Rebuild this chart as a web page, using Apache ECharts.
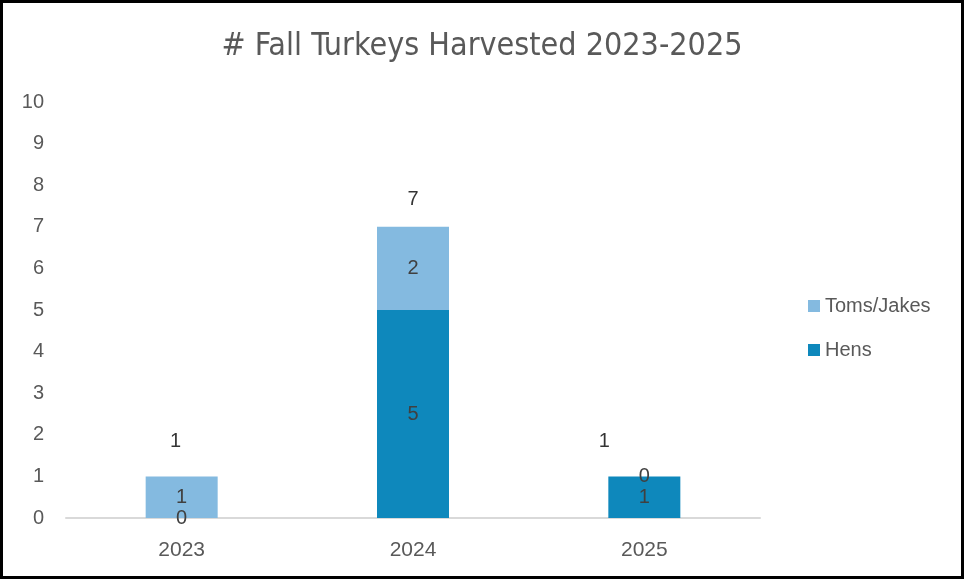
<!DOCTYPE html>
<html>
<head>
<meta charset="utf-8">
<script src="https://cdn.jsdelivr.net/npm/echarts@6/dist/echarts.min.js"></script>
<style>
html, body { margin: 0; padding: 0; background: #fff; }
#main { width: 964px; height: 579px; }
</style>
</head>
<body>
<div id="main"></div>
<script>
var years = ['2023', '2024', '2025'];
var hens = [0, 5, 1];
var tomsJakes = [1, 2, 0];
var totals = [1, 7, 1];
var yTicks = [0, 10, 1]; // min, max, interval

var chart = echarts.init(document.getElementById('main'));

// hand-placed total labels (x, y shift in px) like the original
var totalShift = [[-6, -20], [0, -12], [-40, -20]];

var segLabel = {
    show: true,
    position: 'inside',
    color: '#404040',
    fontSize: 20,
    fontFamily: 'Liberation Sans'
};

var option = {
    backgroundColor: '#fff',
    title: {
        text: '# Fall Turkeys Harvested 2023-2025',
        left: 'center',
        top: 26,
        textStyle: {
            color: '#595959',
            fontSize: 32,
            fontWeight: 'normal',
            fontFamily: 'DejaVu Sans Condensed, Roboto, sans-serif'
        }
    },
    graphic: [{
        type: 'rect',
        shape: { x: 1.5, y: 1.5, width: 961, height: 576 },
        style: { fill: 'none', stroke: '#000', lineWidth: 3 },
        silent: true
    }],
    legend: {
        orient: 'vertical',
        left: 803,
        top: 291,
        itemGap: 24,
        itemWidth: 12,
        itemHeight: 12,
        icon: 'rect',
        data: ['Toms/Jakes', 'Hens'],
        textStyle: { color: '#595959', fontSize: 20, fontFamily: 'Liberation Sans' }
    },
    grid: { left: 66, right: 204, top: 102, bottom: 61 },
    xAxis: {
        type: 'category',
        data: years,
        axisLine: { lineStyle: { color: '#D9D9D9', width: 2 } },
        axisTick: { show: false },
        axisLabel: { color: '#595959', fontSize: 21, margin: 22, fontFamily: 'Liberation Sans' }
    },
    yAxis: {
        type: 'value',
        min: yTicks[0],
        max: yTicks[1],
        interval: yTicks[2],
        splitLine: { show: false },
        axisLine: { show: false },
        axisTick: { show: false },
        axisLabel: { color: '#595959', fontSize: 20, margin: 22, fontFamily: 'Liberation Sans' }
    },
    series: [
        {
            name: 'Hens',
            type: 'bar',
            stack: 'total',
            barWidth: 72,
            data: hens,
            itemStyle: { color: '#0E88BC' },
            label: segLabel
        },
        {
            name: 'Toms/Jakes',
            type: 'bar',
            stack: 'total',
            barWidth: 72,
            data: tomsJakes,
            itemStyle: { color: '#84BAE0' },
            label: segLabel
        },
        {
            name: 'Total',
            type: 'scatter',
            symbolSize: 0,
            data: totals.map(function (v, i) {
                return {
                    value: v,
                    label: { offset: totalShift[i] }
                };
            }),
            label: {
                show: true,
                position: 'top',
                color: '#000',
                fontSize: 20,
                fontFamily: 'Liberation Sans'
            },
            silent: true
        }
    ]
};
chart.setOption(option);
</script>
</body>
</html>
